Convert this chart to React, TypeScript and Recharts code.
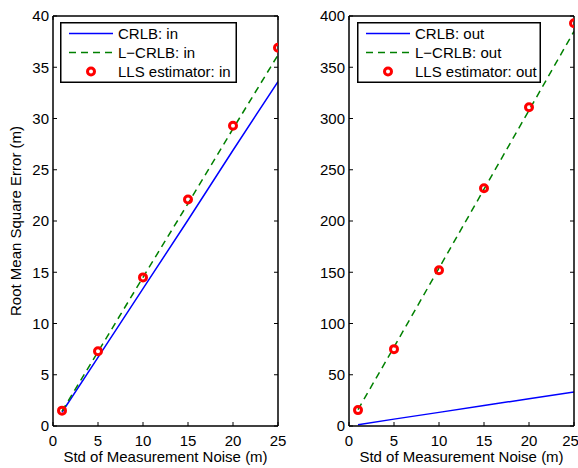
import React from "react";
import {
  ComposedChart,
  Line,
  XAxis,
  YAxis,
  Legend,
} from "recharts";

// values
const noiseStd = [1, 5, 10, 15, 20, 25];
const crlbIn = [1.34, 6.7, 13.4, 20.1, 26.9, 33.6];
const lcrlbIn = [1.45, 7.25, 14.5, 21.7, 29.0, 36.2];
const llsIn = [1.5, 7.3, 14.5, 22.1, 29.3, 36.9];
const crlbOut = [1.3, 6.7, 13.3, 20.0, 26.6, 33.2];
const lcrlbOut = [16, 77, 154, 231, 308, 385];
const llsOut = [15.5, 75, 152, 232, 311, 393];

const xTicks = [0, 5, 10, 15, 20, 25];
const yTicksIn = [0, 5, 10, 15, 20, 25, 30, 35, 40];
const yTicksOut = [0, 50, 100, 150, 200, 250, 300, 350, 400];

const FONT = '"Liberation Sans", Arial, Helvetica, sans-serif';
const BLUE = "#0000ff";
const GREEN = "#008000";
const RED = "#ff0000";

const buildRows = (crlb: number[], lcrlb: number[], lls: number[]) =>
  noiseStd.map((x, i) => ({ x, crlb: crlb[i], lcrlb: lcrlb[i], lls: lls[i] }));

const blank = () => "";

function LegendBox({ suffix, width }: { suffix: string; width: number }) {
  const rows = [
    { name: `CRLB: ${suffix}`, kind: "solid" },
    { name: `L\u2212CRLB: ${suffix}`, kind: "dash" },
    { name: `LLS estimator: ${suffix}`, kind: "marker" },
  ];
  return (
    <svg width={width} height={61} style={{ display: "block" }}>
      <rect x={0.75} y={0.75} width={width - 1.5} height={59.5} fill="#fff" stroke="#000" strokeWidth={1.5} />
      {rows.map((r, i) => {
        const cy = 11.5 + i * 19;
        return (
          <g key={r.name}>
            {r.kind === "solid" && (
              <line x1={9} x2={53} y1={cy} y2={cy} stroke={BLUE} strokeWidth={1.5} />
            )}
            {r.kind === "dash" && (
              <line x1={9} x2={53} y1={cy} y2={cy} stroke={GREEN} strokeWidth={1.5} strokeDasharray="7 5" />
            )}
            {r.kind === "marker" && (
              <circle cx={31} cy={cy} r={3.5} fill="none" stroke={RED} strokeWidth={3} />
            )}
            <text x={58} y={cy + 5.3} fontSize={15} fontFamily={FONT} fill="#000">
              {r.name}
            </text>
          </g>
        );
      })}
    </svg>
  );
}

const XTitle = (props: any) => {
  const vb = props.viewBox || { x: 53, width: 225 };
  return (
    <text x={vb.x + vb.width / 2} y={462} textAnchor="middle" fontSize={15} fontFamily={FONT} fill="#000">
      Std of Measurement Noise (m)
    </text>
  );
};

const YTitle = () => (
  <text
    x={21}
    y={221}
    transform="rotate(-90 21 221)"
    textAnchor="middle"
    fontSize={15}
    fontFamily={FONT}
    fill="#000"
  >
    Root Mean Square Error (m)
  </text>
);

type PanelProps = {
  rows: ReturnType<typeof buildRows>;
  width: number;
  yWidth: number;
  rightMargin: number;
  yMax: number;
  yTicks: number[];
  suffix: string;
  legendLeft: number;
  legendWidth: number;
  showYTitle?: boolean;
};

function Panel({ rows, width, yWidth, rightMargin, yMax, yTicks, suffix, legendLeft, legendWidth, showYTitle }: PanelProps) {
  const tickStyle = { fill: "#000", fontSize: 15, fontFamily: FONT };
  const axisLine = { stroke: "#000", strokeWidth: 1.5 };
  return (
    <ComposedChart width={width} height={468} data={rows} margin={{ top: 15, right: rightMargin, bottom: 0, left: 0 }}>
      <XAxis
        dataKey="x"
        type="number"
        domain={[0, 25]}
        ticks={xTicks}
        allowDataOverflow
        height={42}
        tickSize={-4}
        tickMargin={13}
        tick={tickStyle}
        axisLine={axisLine}
        tickLine={{ stroke: "#000" }}
        label={<XTitle />}
      />
      <XAxis
        xAxisId="top"
        orientation="top"
        type="number"
        domain={[0, 25]}
        ticks={xTicks}
        allowDataOverflow
        height={1}
        tickSize={-4}
        tickFormatter={blank}
        axisLine={axisLine}
        tickLine={{ stroke: "#000" }}
      />
      <YAxis
        type="number"
        domain={[0, yMax]}
        ticks={yTicks}
        allowDataOverflow
        width={yWidth}
        tickSize={-4}
        tickMargin={8}
        tick={tickStyle}
        axisLine={axisLine}
        tickLine={{ stroke: "#000" }}
        label={showYTitle ? <YTitle /> : undefined}
      />
      <YAxis
        yAxisId="right"
        orientation="right"
        type="number"
        domain={[0, yMax]}
        ticks={yTicks}
        allowDataOverflow
        width={1}
        tickSize={-4}
        tickFormatter={blank}
        axisLine={axisLine}
        tickLine={{ stroke: "#000" }}
      />
      <Line
        dataKey="crlb"
        name={`CRLB: ${suffix}`}
        stroke={BLUE}
        strokeWidth={1.5}
        dot={false}
        isAnimationActive={false}
      />
      <Line
        dataKey="lcrlb"
        name={`L-CRLB: ${suffix}`}
        stroke={GREEN}
        strokeWidth={1.5}
        strokeDasharray="7 5"
        dot={false}
        isAnimationActive={false}
      />
      <Line
        dataKey="lls"
        name={`LLS estimator: ${suffix}`}
        stroke="none"
        dot={{ r: 3.5, stroke: RED, strokeWidth: 3, fill: "none" }}
        activeDot={false}
        isAnimationActive={false}
      />
      <Legend
        layout="vertical"
        align="center"
        verticalAlign="middle"
        wrapperStyle={{ left: legendLeft, top: 22, width: legendWidth, height: 61 }}
        content={() => <LegendBox suffix={suffix} width={legendWidth} />}
      />
    </ComposedChart>
  );
}

export default function App() {
  const rowsIn = buildRows(crlbIn, lcrlbIn, llsIn);
  const rowsOut = buildRows(crlbOut, lcrlbOut, llsOut);
  return (
    <div style={{ position: "absolute", left: 0, top: 0, width: 578, height: 468, background: "#fff", overflow: "hidden" }}>
      <div style={{ position: "absolute", left: 0, top: 0 }}>
        <Panel
          rows={rowsIn}
          width={290}
          yWidth={53}
          rightMargin={11}
          yMax={40}
          yTicks={yTicksIn}
          suffix="in"
          legendLeft={60}
          legendWidth={177}
          showYTitle
        />
      </div>
      <div style={{ position: "absolute", left: 290, top: 0 }}>
        <Panel
          rows={rowsOut}
          width={288}
          yWidth={59}
          rightMargin={3}
          yMax={400}
          yTicks={yTicksOut}
          suffix="out"
          legendLeft={67}
          legendWidth={184}
        />
      </div>
    </div>
  );
}
